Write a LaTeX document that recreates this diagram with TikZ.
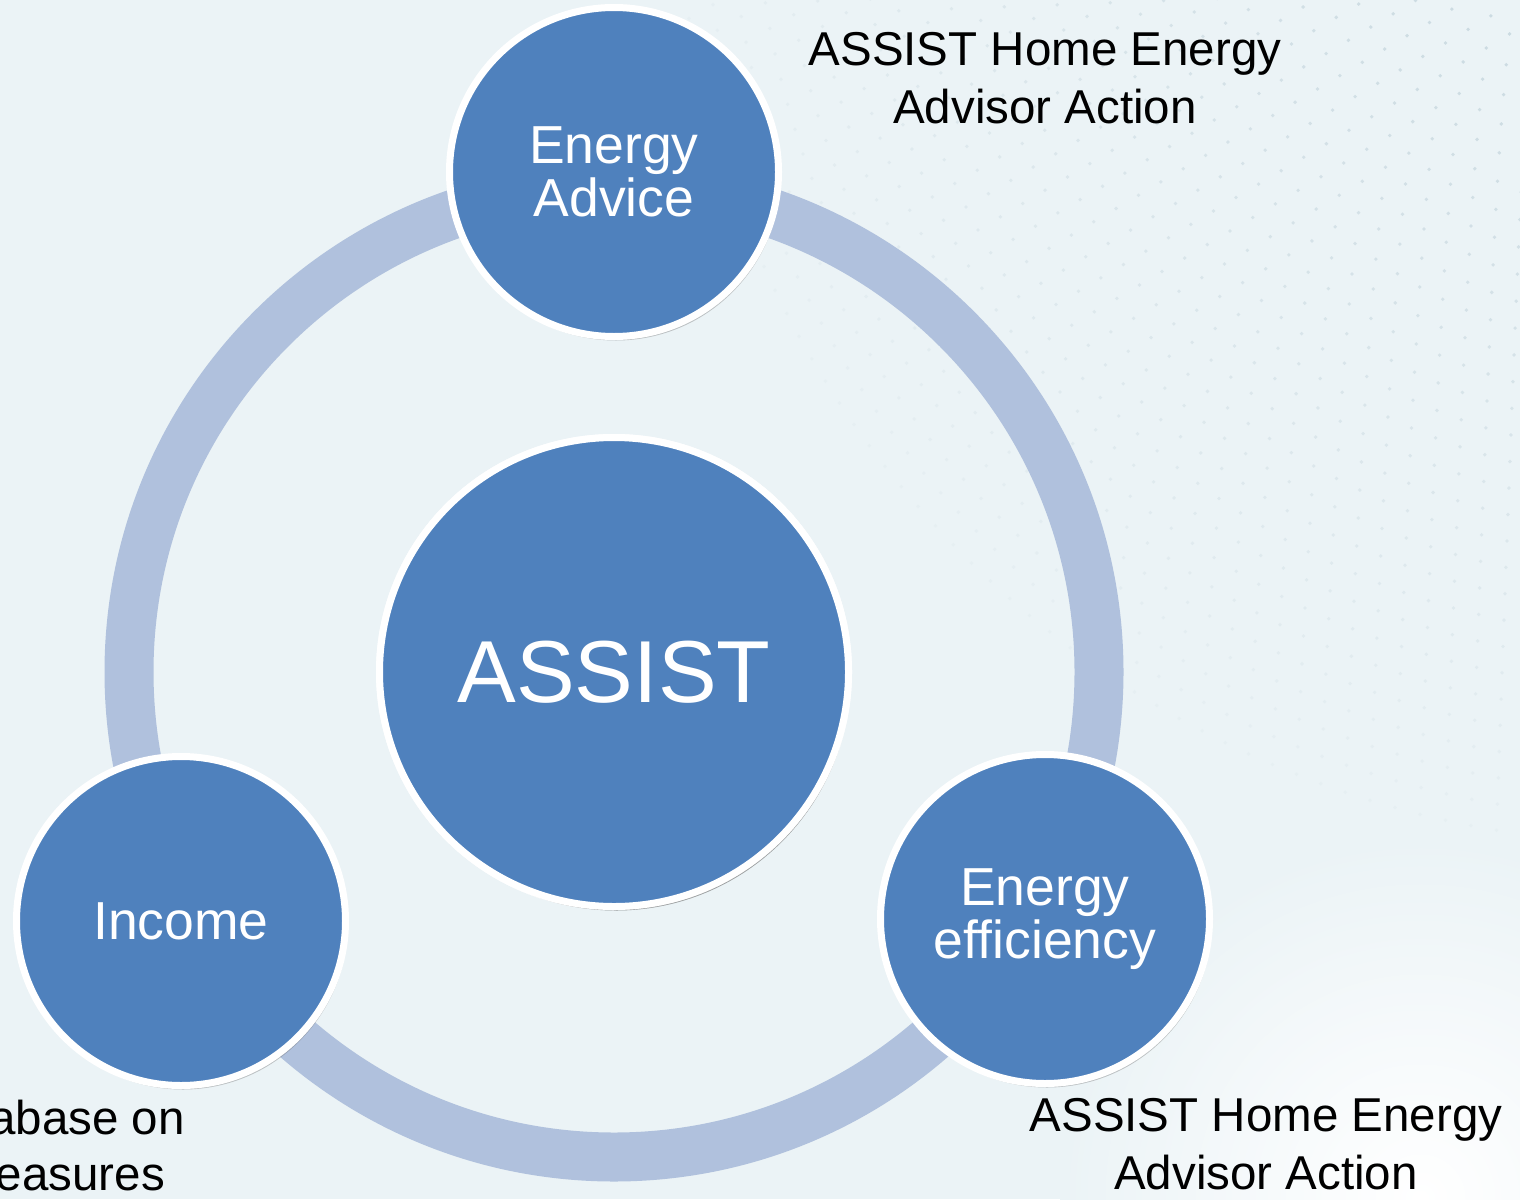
\documentclass[tikz,border=0pt]{standalone}
\usepackage{fontspec}
\setmainfont{Liberation Sans}
\usetikzlibrary{shadows}
\definecolor{bgcol}{HTML}{EBF3F6}
\definecolor{dotcol}{HTML}{CCDBE2}
\definecolor{ringcol}{HTML}{B0C1DD}
\definecolor{nodecol}{HTML}{4F81BD}
\tikzset{
  bubble/.style={circle, fill=nodecol, draw=white, line width=7pt, inner sep=0pt,
    text=white, align=center, font=\fontsize{53.5}{53}\selectfont,
    drop shadow={shadow xshift=2pt, shadow yshift=-4pt, opacity=0.35, fill=black!60}},
  note/.style={align=center, font=\fontsize{47.5}{58}\selectfont, text=black, inner sep=0pt},
  ring/.style={draw=ringcol, line width=49pt}
}
\begin{document}
\begin{tikzpicture}[x=1pt,y=-1pt]
\useasboundingbox (0,0) rectangle (1520,1199);
\clip (0,0) rectangle (1520,1199);
\fill[bgcol] (0,0) rectangle (1520,1199);
\shade[inner color=white, outer color=bgcol] (1420,1199) circle (360pt);
% faint dotted arcs (background texture)
\foreach \r in {230,256,...,1000}{
  \pgfmathtruncatemacro{\n}{\r*1.45/26}
  \pgfmathsetmacro{\op}{max(0.1,1-(\r-230)/900)}
  \foreach \i in {0,...,\n}{
    \pgfmathsetmacro{\a}{92+\i*26/\r*57.3}
    \fill[dotcol, opacity=\op] ([shift={(1660,-140)}]\a:\r) circle (1.9pt);
  }
}
% central node and ring
\node[bubble, minimum size=469pt, font=\fontsize{88}{90}\selectfont] (assist) at (614,672) {ASSIST};
\draw[ring] (assist.center) circle (485pt);
\node[bubble, minimum size=469pt, font=\fontsize{88}{90}\selectfont] at (assist.center) {ASSIST};
% satellite nodes
\node[bubble, minimum size=329pt] (advice) at (614,172) {Energy\\Advice};
\node[bubble, minimum size=329pt] (income) at (181,921) {Income};
\node[bubble, minimum size=329pt] (eff) at (1045,919) {Energy\\efficiency};
% labels
\node[note] (lab1) at (1045,78) {ASSIST Home Energy\\Advisor Action};
\node[note] (lab2) at (1266,1144) {ASSIST Home Energy\\Advisor Action};
\node[note, anchor=base east] (lab3) at (185,1134) {abase on};
\node[note, anchor=base east] (lab4) at (165,1190) {easures};
\end{tikzpicture}
\end{document}
